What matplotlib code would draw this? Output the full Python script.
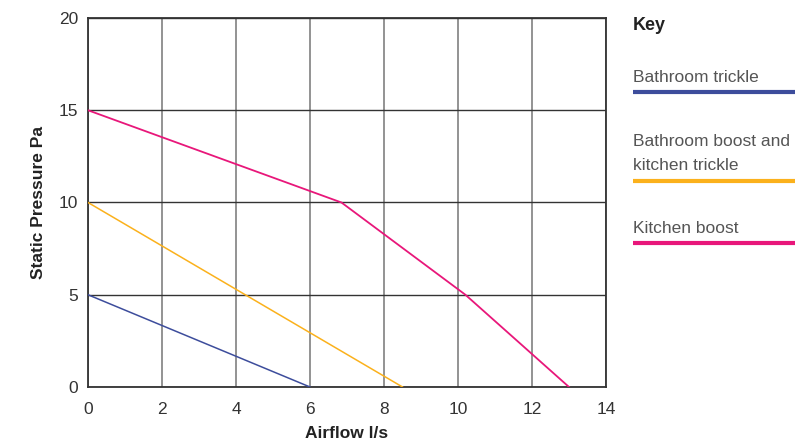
import matplotlib
matplotlib.use('Agg')
import matplotlib.pyplot as plt
from matplotlib.lines import Line2D

plt.rcParams['font.family'] = ['Liberation Sans', 'DejaVu Sans']

# curve data
trickle_x = [0, 6]
trickle_y = [5, 0]
boost_trickle_x = [0, 8.5]
boost_trickle_y = [10, 0]
kitchen_x = [0, 6.85, 10.2, 13]
kitchen_y = [15, 10, 5, 0]

labels = ['Bathroom trickle', 'Bathroom boost and\nkitchen trickle', 'Kitchen boost']
colors = ['#3d4d9c', '#fbb11c', '#e8177a']

fig = plt.figure(figsize=(7.95, 4.41), dpi=100)
ax = fig.add_axes([88/795, 1 - 387/441, 518/795, 369/441])

ax.plot(trickle_x, trickle_y, color=colors[0], lw=1.1, zorder=3)
ax.plot(boost_trickle_x, boost_trickle_y, color=colors[1], lw=1.1, zorder=3)
ax.plot(kitchen_x, kitchen_y, color=colors[2], lw=1.3, zorder=3)

ax.set_xlim(0, 14)
ax.set_ylim(0, 20)
ax.set_xticks(range(0, 15, 2))
ax.set_yticks(range(0, 21, 5))
ax.xaxis.grid(True, color='#8a8a8a', lw=1.3)
ax.yaxis.grid(True, color='#333333', lw=1.0)
ax.set_axisbelow(True)
for s in ax.spines.values():
    s.set_color('#333333')
    s.set_linewidth(1.3)
ax.tick_params(axis='x', length=0, labelsize=12.5, colors='#333333', pad=11)
ax.tick_params(axis='y', length=0, labelsize=12.5, colors='#333333', pad=7)
ax.set_xlabel('Airflow l/s', fontsize=12.5, fontweight='bold', color='#222222', labelpad=6)
ax.set_ylabel('Static Pressure Pa', fontsize=12.5, fontweight='bold', color='#222222', labelpad=9)

# key on the right
fig.text(633/795, 1 - 26/441, 'Key', fontsize=13, fontweight='bold', color='#222222', va='center')
label_y = [77, 153, 229]
line_y = [92, 181, 243]
for lab, c, ty, ly in zip(labels, colors, label_y, line_y):
    fig.text(633/795, 1 - ty/441, lab, fontsize=12.5, color='#555555', va='center', linespacing=1.75)
    fig.add_artist(Line2D([633/795, 1.0], [1 - ly/441] * 2, color=c, lw=3, solid_capstyle='butt'))

fig.savefig('out.png', dpi=100)
